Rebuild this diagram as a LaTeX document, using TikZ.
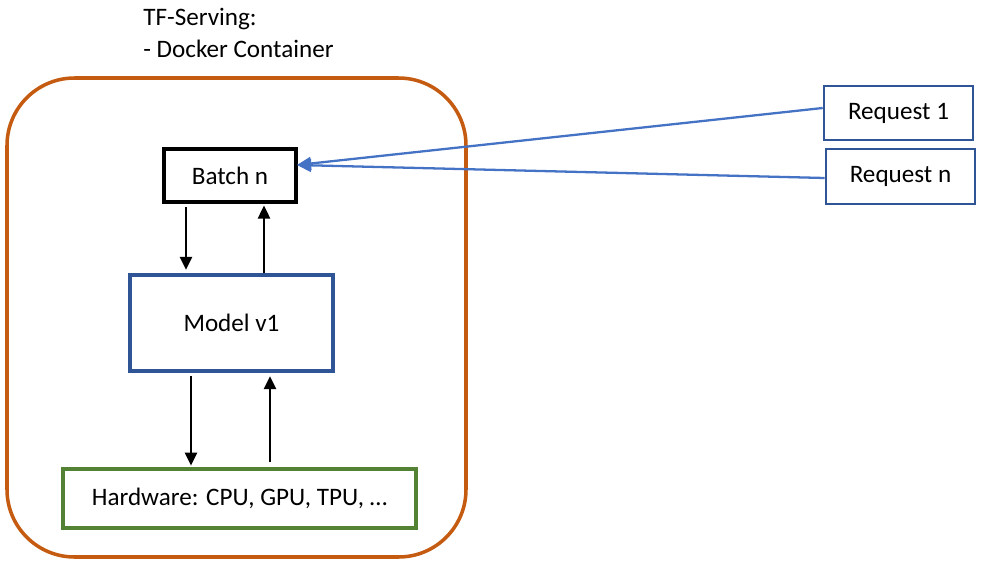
\documentclass[tikz,border=0pt]{standalone}
\usepackage{fontspec}
\setmainfont{Carlito}
\usetikzlibrary{arrows.meta,calc}
\definecolor{orangec}{RGB}{197,90,17}
\definecolor{bluebox}{RGB}{47,85,151}
\definecolor{greenbox}{RGB}{84,130,53}
\definecolor{bluearrow}{RGB}{68,114,196}
\tikzset{
  txt/.style={font=\fontsize{14.3}{17}\selectfont, inner sep=0pt},
  box/.style={draw, txt, align=center},
  blackarrow/.style={line width=1.4pt, -{Triangle[length=0.26cm,width=0.24cm]}},
  reqarrow/.style={draw=bluearrow, line width=1.3pt, -{Triangle[length=0.28cm,width=0.26cm]}, bluearrow}
}
\begin{document}
\begin{tikzpicture}[x=0.02cm,y=-0.02cm]
\useasboundingbox (0,0) rectangle (985,575);
\node[txt, anchor=base west] (t1) at (143,25) {TF-Serving:};
\node[txt, anchor=base west] (t2) at (143,57) {- Docker Container};
\draw[orangec, line width=2pt, rounded corners=1.35cm] (7,78) rectangle (466,557);
\node[box, line width=2pt, minimum width=2.64cm, minimum height=1.06cm] (batch) at (230,175.5) {Batch n};
\node[box, draw=bluebox, line width=1.8pt, minimum width=4.06cm, minimum height=1.92cm] (model) at (231.5,323) {Model v1};
\node[box, draw=greenbox, line width=1.8pt, minimum width=7.06cm, minimum height=1.18cm] (hw) at (239.5,498.5) {Hardware: CPU, GPU, TPU, \dots};
\node[box, draw=bluebox, line width=1.5pt, minimum width=2.98cm, minimum height=1.08cm] (req1) at (898.5,113) {Request 1};
\node[box, draw=bluebox, line width=1.5pt, minimum width=2.98cm, minimum height=1.1cm] (reqn) at (900.5,176.5) {Request n};
\coordinate (xa) at (186,0);
\coordinate (xb) at (264,0);
\coordinate (xc) at (191,0);
\coordinate (xd) at (270,0);
\draw[blackarrow, shorten <=2pt, shorten >=2pt] (batch.south -| xa) -- (model.north -| xa);
\draw[blackarrow, shorten >=1pt] (model.north -| xb) -- (batch.south -| xb);
\draw[blackarrow, shorten <=2pt, shorten >=1pt] (model.south -| xc) -- (hw.north -| xc);
\draw[blackarrow, shorten <=3pt, shorten >=2pt] (hw.north -| xd) -- (model.south -| xd);
\coordinate (tip) at (297,165);
\draw[reqarrow] ($(req1.west)+(0,-5)$) -- (tip);
\draw[reqarrow] ($(reqn.west)+(0,1.5)$) -- (tip);
\end{tikzpicture}
\end{document}
